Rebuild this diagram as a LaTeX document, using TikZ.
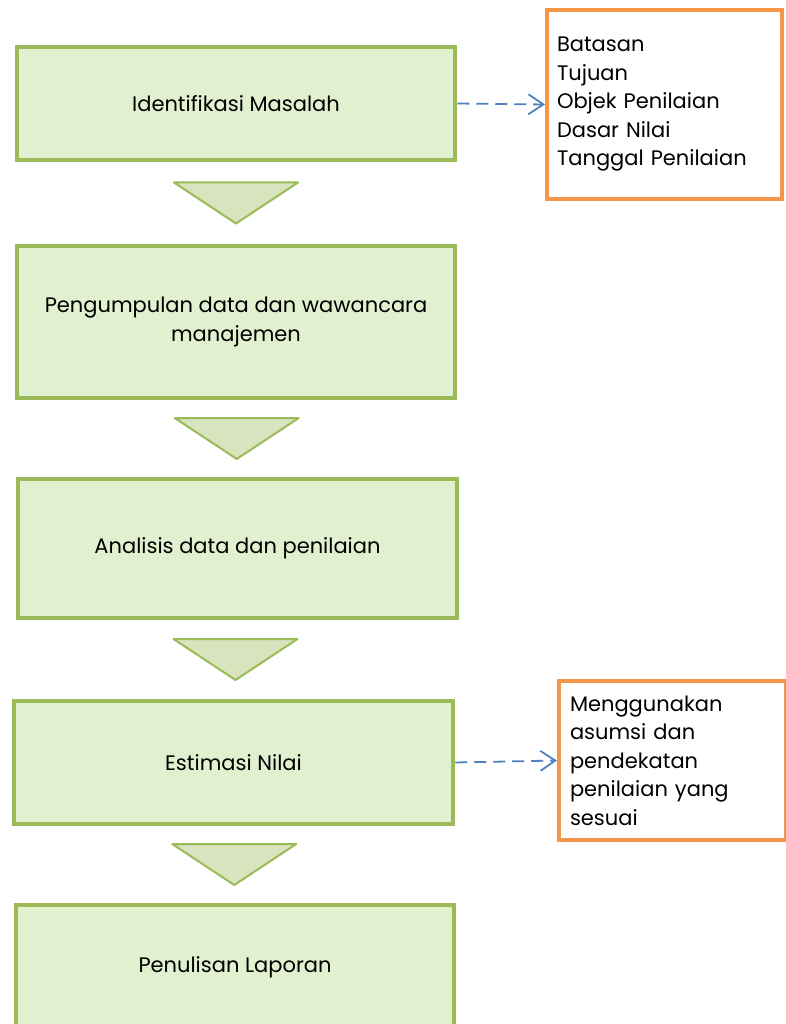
\documentclass[tikz,border=0pt]{standalone}
\usepackage{fontspec}
\setmainfont{Poppins}
\usetikzlibrary{positioning,calc,arrows.meta}
\definecolor{stepline}{HTML}{9BBB59}
\definecolor{stepfill}{HTML}{E1F0CF}
\definecolor{trifill}{HTML}{D7E4BD}
\definecolor{noteline}{HTML}{F79646}
\definecolor{arrowblue}{HTML}{4F81BD}

\begin{document}
\begin{tikzpicture}[x=1pt,y=-1pt,
stepbox/.style={draw=stepline,fill=stepfill,line width=4.5pt,rectangle,minimum width=438pt,align=center,font=\fontsize{21}{28.5}\selectfont},
notebox/.style={draw=noteline,fill=white,line width=4pt,rectangle,align=left,inner xsep=10pt,font=\fontsize{21}{28.5}\selectfont},
flowtri/.style={draw=stepline,fill=trifill,line width=2pt,line join=round},
dasharr/.style={draw=arrowblue,line width=1.8pt,dash pattern=on 12pt off 7pt,-{Straight Barb[length=15pt,width=20pt,line width=1.8pt]}}]
\useasboundingbox (0,0) rectangle (786,1024);

% steps
\node (ident) [stepbox,minimum height=113pt] at (236,103.5) {Identifikasi Masalah};
\node (kumpul) [stepbox,minimum height=152pt] at (236,322) {Pengumpulan data dan wawancara\\manajemen};
\node (analisis) [stepbox,minimum width=439pt,minimum height=139pt] at (237.5,548.5) {Analisis data dan penilaian};
\node (estimasi) [stepbox,minimum width=439pt,minimum height=123pt] at (233.5,762.5) {Estimasi Nilai};
\node (laporan) [stepbox,minimum height=124pt] at (235,967) {Penulisan Laporan};

% notes
\node (lingkup) [notebox,text width=215pt,minimum height=189pt] at (664.5,104.5)
    {Batasan\\Tujuan\\Objek Penilaian\\Dasar Nilai\\Tanggal Penilaian};
\node (asumsi) [notebox,text width=205pt,inner xsep=11pt,minimum height=159pt] at (672.5,760.5)
    {Menggunakan\\asumsi dan\\pendekatan\\penilaian yang\\sesuai};

% flow triangles
\foreach \a/\b in {ident/kumpul,kumpul/analisis,analisis/estimasi,estimasi/laporan} {
  \coordinate (m) at ($(\a.south)!.5!(\b.north)$);
  \draw[flowtri] ($(m)+(-62,-20.5)$) -- ($(m)+(62,-20.5)$) -- ($(m)+(0,20.5)$) -- cycle;
}

\draw[dasharr] (ident.east) -- (lingkup.west);
\draw[dasharr] (estimasi.east) -- (asumsi.west);
\end{tikzpicture}
\end{document}
